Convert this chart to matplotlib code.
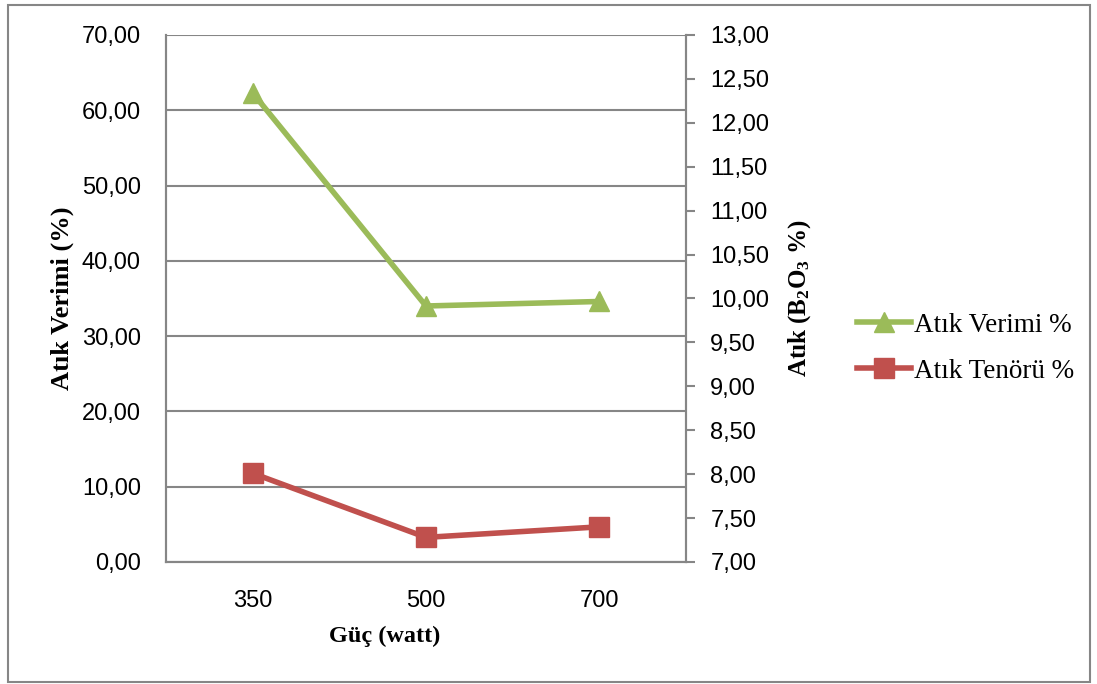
"""
Atık verimi ve tenörü - güce göre (çift eksenli çizgi grafik).
Writes: out.png
"""

import matplotlib.pyplot as plt
from matplotlib.patches import Rectangle

# --- data ---
power = ["350", "500", "700"]
atik_verimi = [62.3, 34.0, 34.6]      # left axis (%)
atik_tenoru = [8.01, 7.28, 7.40]      # right axis (B2O3 %)

left_ticks = [0, 10, 20, 30, 40, 50, 60, 70]
right_ticks = [7.0, 7.5, 8.0, 8.5, 9.0, 9.5, 10.0, 10.5, 11.0, 11.5, 12.0, 12.5, 13.0]

GREEN = "#9BBB59"
RED = "#C0504D"
GRAY = "#868686"

plt.rcParams["mathtext.fontset"] = "custom"
plt.rcParams["mathtext.rm"] = "Liberation Serif:bold"
plt.rcParams["mathtext.it"] = "Liberation Serif:bold"
plt.rcParams["mathtext.bf"] = "Liberation Serif:bold"

TICK_FONT = dict(family="Liberation Sans", size=17)
SERIF_BOLD = dict(family="Liberation Serif", weight="bold")


def fmt(v):
    return f"{v:.2f}".replace(".", ",")


fig = plt.figure(figsize=(10.97, 6.84), dpi=100)
ax = fig.add_axes([0.1513, 0.1784, 0.474, 0.7705])
ax2 = ax.twinx()

x = list(range(len(power)))
ax.plot(x, atik_verimi, color=GREEN, lw=4, marker="^", ms=15,
        label="Atık Verimi %", zorder=3)
ax2.plot(x, atik_tenoru, color=RED, lw=4, marker="s", ms=14,
         label="Atık Tenörü %", zorder=3)

ax.set_xlim(-0.5, 2.5)
ax.set_ylim(0, 70)
ax2.set_ylim(7, 13)

ax.set_xticks(x)
ax.set_xticklabels(power, **TICK_FONT)
ax.set_yticks(left_ticks)
ax.set_yticklabels([fmt(v) for v in left_ticks], **TICK_FONT)
ax2.set_yticks(right_ticks)
ax2.set_yticklabels([fmt(v) for v in right_ticks], **TICK_FONT)

ax.tick_params(axis="x", length=0, pad=20)
ax.tick_params(axis="y", length=0, pad=18)
ax2.tick_params(axis="y", length=6.5, width=1.5, color=GRAY, direction="out", pad=11)

ax.grid(axis="y", color=GRAY, lw=1.5)
ax.set_axisbelow(True)

for a in (ax, ax2):
    a.spines["top"].set_visible(False)
    for side in ("left", "right", "bottom"):
        a.spines[side].set_color(GRAY)
        a.spines[side].set_linewidth(1.5)

ax.set_xlabel("Güç (watt)", size=17.5, **SERIF_BOLD)
ax.xaxis.set_label_coords(0.42, -0.122)
ax.set_ylabel("Atık Verimi (%)", size=19, **SERIF_BOLD)
ax.yaxis.set_label_coords(-0.176, 0.5)
ax2.set_ylabel(r"Atık (B$_2$O$_3$ %)", size=18, labelpad=12, **SERIF_BOLD)

h1, l1 = ax.get_legend_handles_labels()
h2, l2 = ax2.get_legend_handles_labels()
fig.legend(h1 + h2, l1 + l2, loc="center left", bbox_to_anchor=(0.759, 0.491),
           frameon=False, handlelength=2.0, handletextpad=0.1, labelspacing=0.77,
           prop=dict(family="Liberation Serif", size=19.5))

fig.patches.append(Rectangle((8 / 1097, 2 / 684), 1082 / 1097, 677 / 684,
                             transform=fig.transFigure, fill=False,
                             edgecolor=GRAY, lw=1.5))

fig.savefig("out.png", dpi=100)
